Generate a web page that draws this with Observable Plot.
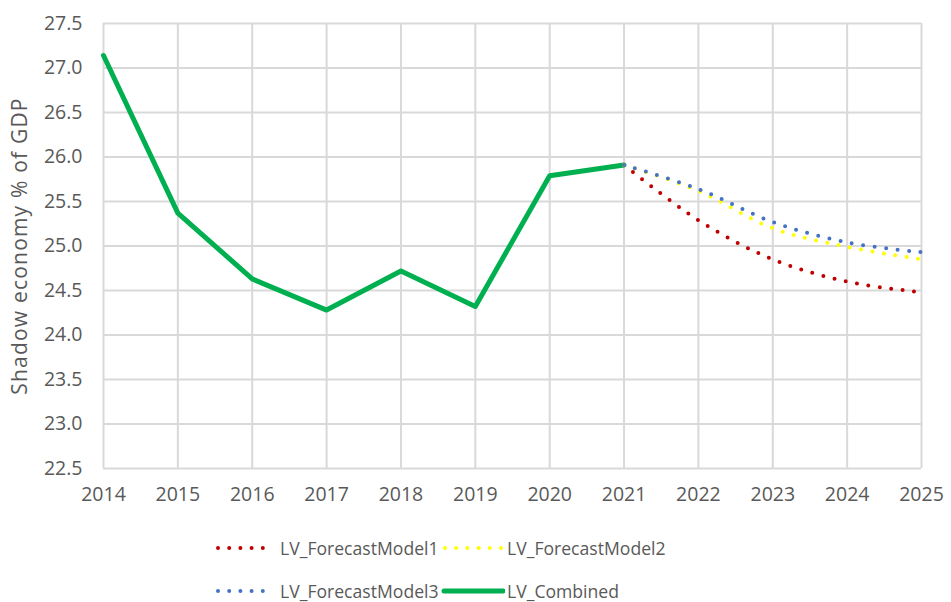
<!DOCTYPE html>
<html>
<head>
<meta charset="utf-8">
<script src="https://cdn.jsdelivr.net/npm/d3@7"></script>
<script src="https://cdn.jsdelivr.net/npm/@observablehq/plot@0.6"></script>
<style>
  html, body { margin: 0; padding: 0; background: #fff; }
  #wrap { position: relative; width: 951px; height: 602px; font-family: "Open Sans", sans-serif; }
  #legend { position: absolute; left: 0; top: 0; width: 951px; height: 602px; pointer-events: none; }
  .lg { position: absolute; display: flex; align-items: center; font-size: 17.6px; color: #595959; white-space: nowrap; }
</style>
</head>
<body>
<div id="wrap"><div id="chart"></div><div id="legend"></div></div>
<script>
const histYears = [2014, 2015, 2016, 2017, 2018, 2019, 2020, 2021];
const combined = [27.14, 25.37, 24.63, 24.28, 24.72, 24.32, 25.79, 25.91];
const fcYears = [2021, 2022, 2023, 2024, 2025];
const model1 = [25.91, 25.29, 24.85, 24.60, 24.48];
const model2 = [25.91, 25.62, 25.20, 24.99, 24.85];
const model3 = [25.91, 25.64, 25.27, 25.04, 24.93];
const seriesNames = ["LV_ForecastModel1", "LV_ForecastModel2", "LV_ForecastModel3", "LV_Combined"];
const seriesColors = ["#C00000", "#FFFF00", "#4472C4", "#00B050"];
const yTicks = [22.5, 23.0, 23.5, 24.0, 24.5, 25.0, 25.5, 26.0, 26.5, 27.0, 27.5];
const xTicks = [2014, 2015, 2016, 2017, 2018, 2019, 2020, 2021, 2022, 2023, 2024, 2025];
const yLabel = "Shadow economy % of GDP";

const comb = histYears.map((y, i) => ({year: y, value: combined[i]}));
const m1 = fcYears.map((y, i) => ({year: y, value: model1[i]}));
const m2 = fcYears.map((y, i) => ({year: y, value: model2[i]}));
const m3 = fcYears.map((y, i) => ({year: y, value: model3[i]}));

const dotted = {strokeWidth: 4, strokeDasharray: "0 11.5", strokeLinecap: "round", curve: "catmull-rom"};

const chart = Plot.plot({
  width: 951,
  height: 515,
  marginLeft: 103,
  marginRight: 30,
  marginTop: 23,
  marginBottom: 47,
  style: {fontFamily: "Open Sans, sans-serif", fontSize: "19.5px", color: "#595959", background: "#fff"},
  x: {domain: [2014, 2025], ticks: xTicks, tickFormat: "d", grid: true, tickSize: 0, tickPadding: 19, label: null},
  y: {domain: [22.5, 27.5], ticks: yTicks, tickFormat: ".1f", grid: true, tickSize: 0, tickPadding: 21,
      label: yLabel, labelAnchor: "center", labelArrow: "none", labelOffset: 91},
  marks: [
    Plot.gridX(xTicks, {stroke: "#D9D9D9", strokeOpacity: 1, strokeWidth: 2}),
    Plot.gridY(yTicks, {stroke: "#D9D9D9", strokeOpacity: 1, strokeWidth: 2}),
    Plot.lineY(comb, {x: "year", y: "value", stroke: seriesColors[3], strokeWidth: 5, strokeLinejoin: "round"}),
    Plot.lineY(m1, {x: "year", y: "value", stroke: seriesColors[0], ...dotted}),
    Plot.lineY(m2, {x: "year", y: "value", stroke: seriesColors[1], ...dotted}),
    Plot.lineY(m3, {x: "year", y: "value", stroke: seriesColors[2], ...dotted})
  ]
});
d3.select(chart).selectAll('g[aria-label="y-axis label"] text')
  .style("font-size", "21px").style("letter-spacing", "1.2px");
document.getElementById("chart").appendChild(chart);

// Legend
const legend = document.getElementById("legend");
const pos = [[214, 548], [441, 548], [214, 591], [441, 591]];
seriesNames.forEach((name, i) => {
  const d = document.createElement("div");
  d.className = "lg";
  d.style.left = pos[i][0] + "px";
  d.style.top = (pos[i][1] - 13) + "px";
  d.style.height = "26px";
  const swatch = i < 3
    ? `<svg width="64" height="10"><line x1="4" y1="5" x2="60" y2="5" stroke="${seriesColors[i]}" stroke-width="4" stroke-linecap="round" stroke-dasharray="0 11.2"/></svg>`
    : `<svg width="64" height="10"><line x1="3" y1="5" x2="62" y2="5" stroke="${seriesColors[i]}" stroke-width="5" stroke-linecap="round"/></svg>`;
  d.innerHTML = swatch + `<span style="margin-left:2px">${name}</span>`;
  legend.appendChild(d);
});
</script>
</body>
</html>
